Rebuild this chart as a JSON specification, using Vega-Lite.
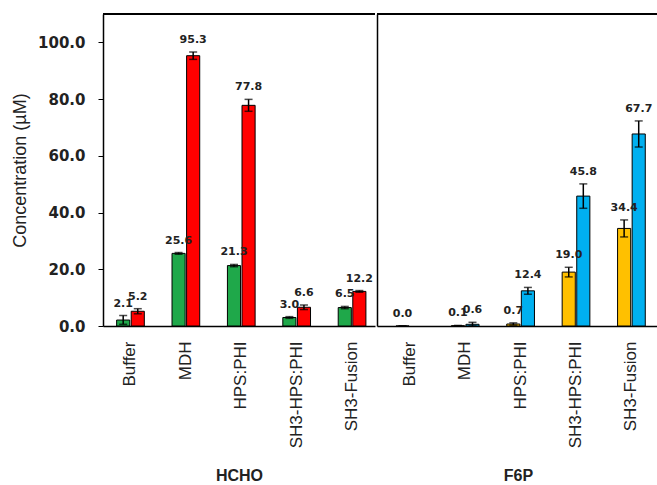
{
  "$schema": "https://vega.github.io/schema/vega-lite/v6.json",
  "padding": {"left": 11, "top": 13, "right": 0, "bottom": 0},
  "background": "white",
  "spacing": 0,
  "data": {"values": [
    {"grp": "HCHO", "cat": "Buffer", "s": "a", "series": "HCHO a", "v": 2.1, "lo": 0.6, "hi": 3.7},
    {"grp": "HCHO", "cat": "Buffer", "s": "b", "series": "HCHO b", "v": 5.2, "lo": 4.3, "hi": 6.1},
    {"grp": "HCHO", "cat": "MDH", "s": "a", "series": "HCHO a", "v": 25.6, "lo": 25.3, "hi": 25.9},
    {"grp": "HCHO", "cat": "MDH", "s": "b", "series": "HCHO b", "v": 95.3, "lo": 94.0, "hi": 96.6},
    {"grp": "HCHO", "cat": "HPS:PHI", "s": "a", "series": "HCHO a", "v": 21.3, "lo": 20.9, "hi": 21.7},
    {"grp": "HCHO", "cat": "HPS:PHI", "s": "b", "series": "HCHO b", "v": 77.8, "lo": 75.7, "hi": 79.9},
    {"grp": "HCHO", "cat": "SH3-HPS:PHI", "s": "a", "series": "HCHO a", "v": 3.0, "lo": 2.7, "hi": 3.3},
    {"grp": "HCHO", "cat": "SH3-HPS:PHI", "s": "b", "series": "HCHO b", "v": 6.6, "lo": 5.8, "hi": 7.4},
    {"grp": "HCHO", "cat": "SH3-Fusion", "s": "a", "series": "HCHO a", "v": 6.5, "lo": 6.1, "hi": 6.9},
    {"grp": "HCHO", "cat": "SH3-Fusion", "s": "b", "series": "HCHO b", "v": 12.2, "lo": 11.9, "hi": 12.5},
    {"grp": "F6P", "cat": "Buffer", "s": "a", "series": "F6P a", "v": 0.0, "lo": 0.0, "hi": 0.0},
    {"grp": "F6P", "cat": "MDH", "s": "a", "series": "F6P a", "v": 0.1, "lo": 0.0, "hi": 0.2},
    {"grp": "F6P", "cat": "MDH", "s": "b", "series": "F6P b", "v": 0.6, "lo": 0.0, "hi": 1.3},
    {"grp": "F6P", "cat": "HPS:PHI", "s": "a", "series": "F6P a", "v": 0.7, "lo": 0.3, "hi": 1.1},
    {"grp": "F6P", "cat": "HPS:PHI", "s": "b", "series": "F6P b", "v": 12.4, "lo": 11.2, "hi": 13.6},
    {"grp": "F6P", "cat": "SH3-HPS:PHI", "s": "a", "series": "F6P a", "v": 19.0, "lo": 17.3, "hi": 20.7},
    {"grp": "F6P", "cat": "SH3-HPS:PHI", "s": "b", "series": "F6P b", "v": 45.8, "lo": 41.5, "hi": 50.1},
    {"grp": "F6P", "cat": "SH3-Fusion", "s": "a", "series": "F6P a", "v": 34.4, "lo": 31.4, "hi": 37.4},
    {"grp": "F6P", "cat": "SH3-Fusion", "s": "b", "series": "F6P b", "v": 67.7, "lo": 63.1, "hi": 72.3}
  ]},
  "hconcat": [
    {
      "width": 272, "height": 312,
      "transform": [{"filter": "datum.grp === 'HCHO'"}],
      "layer": [
        {
          "encoding": {
            "x": {"field": "cat", "type": "nominal", "sort": ["Buffer", "MDH", "HPS:PHI", "SH3-HPS:PHI", "SH3-Fusion"], "scale": {"paddingInner": 0.5, "paddingOuter": 0.205, "align": 0.6}, "axis": {"title": "HCHO", "labelAngle": -90}},
            "xOffset": {"field": "s", "type": "nominal", "scale": {"domain": ["a", "b"], "paddingInner": 0.1}}
          },
          "layer": [
            {"mark": {"type": "bar", "stroke": "black", "strokeWidth": 1},
             "encoding": {
               "y": {"field": "v", "type": "quantitative", "scale": {"domain": [0, 110], "nice": false}, "axis": {"title": "Concentration (µM)", "values": [0, 20, 40, 60, 80, 100], "format": ".1f"}},
               "color": {"field": "series", "type": "nominal", "scale": {"domain": ["HCHO a", "HCHO b", "F6P a", "F6P b"], "range": ["#1FA84A", "#FF0000", "#FFC000", "#00B0F0"]}, "legend": null}}},
            {"mark": {"type": "rule", "color": "black", "strokeWidth": 1.5},
             "encoding": {"y": {"field": "lo", "type": "quantitative"}, "y2": {"field": "hi"}}},
            {"mark": {"type": "tick", "color": "black", "thickness": 1.5, "size": 8},
             "encoding": {"y": {"field": "lo", "type": "quantitative"}}},
            {"mark": {"type": "tick", "color": "black", "thickness": 1.5, "size": 8},
             "encoding": {"y": {"field": "hi", "type": "quantitative"}}},
            {"mark": {"type": "text", "dy": -12, "font": "DejaVu Sans", "fontWeight": "bold", "fontSize": 11, "color": "#222"},
             "encoding": {"y": {"field": "hi", "type": "quantitative"}, "text": {"field": "v", "type": "quantitative", "format": ".1f"}}}
          ]
        },
        {"mark": {"type": "rule", "color": "black", "strokeWidth": 2},
         "encoding": {"y": {"datum": 110}}}
      ]
    },
    {
      "width": 282, "height": 312,
      "transform": [{"filter": "datum.grp === 'F6P'"}],
      "layer": [
        {
          "encoding": {
            "x": {"field": "cat", "type": "nominal", "sort": ["Buffer", "MDH", "HPS:PHI", "SH3-HPS:PHI", "SH3-Fusion"], "scale": {"paddingInner": 0.5, "paddingOuter": 0.295, "align": 0.58}, "axis": {"title": "F6P", "labelAngle": -90}},
            "xOffset": {"field": "s", "type": "nominal", "scale": {"domain": ["a", "b"], "paddingInner": 0.1}}
          },
          "layer": [
            {"mark": {"type": "bar", "stroke": "black", "strokeWidth": 1},
             "encoding": {
               "y": {"field": "v", "type": "quantitative", "scale": {"domain": [0, 110], "nice": false}, "axis": {"title": null, "labels": false, "ticks": false}},
               "color": {"field": "series", "type": "nominal", "scale": {"domain": ["HCHO a", "HCHO b", "F6P a", "F6P b"], "range": ["#1FA84A", "#FF0000", "#FFC000", "#00B0F0"]}, "legend": null}}},
            {"mark": {"type": "rule", "color": "black", "strokeWidth": 1.5},
             "encoding": {"y": {"field": "lo", "type": "quantitative"}, "y2": {"field": "hi"}}},
            {"mark": {"type": "tick", "color": "black", "thickness": 1.5, "size": 8},
             "encoding": {"y": {"field": "lo", "type": "quantitative"}}},
            {"mark": {"type": "tick", "color": "black", "thickness": 1.5, "size": 8},
             "encoding": {"y": {"field": "hi", "type": "quantitative"}}},
            {"mark": {"type": "text", "dy": -12, "font": "DejaVu Sans", "fontWeight": "bold", "fontSize": 11, "color": "#222"},
             "encoding": {"y": {"field": "hi", "type": "quantitative"}, "text": {"field": "v", "type": "quantitative", "format": ".1f"}}}
          ]
        },
        {"mark": {"type": "rule", "color": "black", "strokeWidth": 2},
         "encoding": {"y": {"datum": 110}}}
      ]
    }
  ],
  "config": {
    "view": {"stroke": null},
    "axisY": {"domainColor": "black", "domainWidth": 1.5, "tickColor": "black", "tickSize": 5, "labelFont": "DejaVu Sans", "labelFontWeight": "bold", "labelFontSize": 15, "labelColor": "#222", "labelPadding": 13, "titleFont": "Liberation Sans", "titleFontSize": 18, "titleFontWeight": "normal", "titlePadding": 8, "titleColor": "#222", "grid": false},
    "axisX": {"domainColor": "black", "domainWidth": 1.5, "ticks": false, "labelFont": "Liberation Sans", "labelFontSize": 17, "labelColor": "#222", "labelPadding": 15, "titleFont": "Liberation Sans", "titleFontSize": 16, "titleFontWeight": "bold", "titlePadding": 20, "titleColor": "#222", "grid": false}
  }
}
